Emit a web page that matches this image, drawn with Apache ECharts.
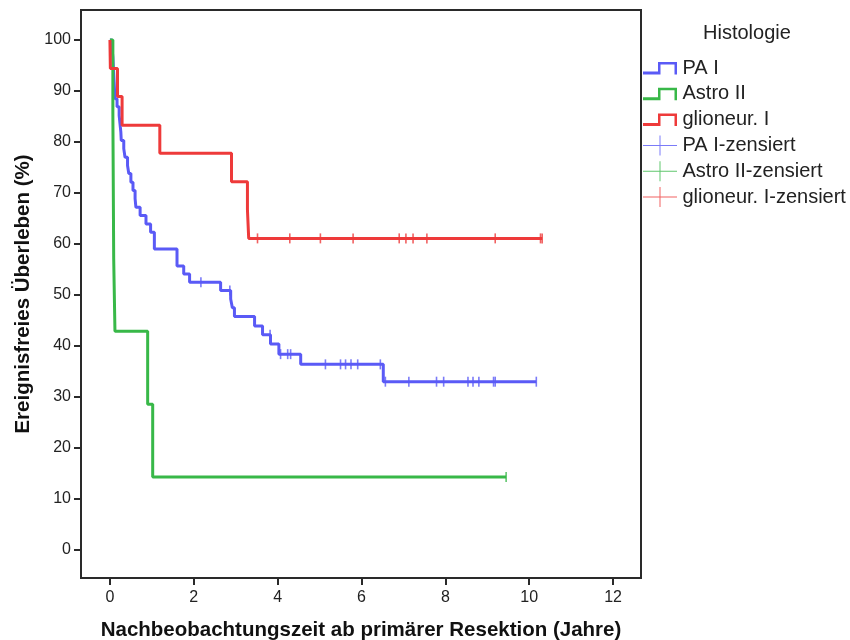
<!DOCTYPE html>
<html>
<head>
<meta charset="utf-8">
<script src="https://cdn.jsdelivr.net/npm/echarts@6/dist/echarts.min.js"></script>
<style>
html,body{margin:0;padding:0;background:#fff;}
#chart{width:850px;height:640px;}
</style>
</head>
<body>
<div id="chart"></div>
<script>
// ---- Data (Kaplan-Meier steps: time in years, survival in %) ----
const xTicks = [0, 2, 4, 6, 8, 10, 12];
const yTicks = [0, 10, 20, 30, 40, 50, 60, 70, 80, 90, 100];

const paTime = [0, 0.05, 0.07, 0.08, 0.09, 0.10, 0.11, 0.12, 0.17, 0.22, 0.24, 0.26, 0.27, 0.33, 0.36, 0.42, 0.45, 0.50, 0.55, 0.60, 0.62, 0.72, 0.86, 0.97, 1.06, 1.60, 1.76, 1.90, 2.64, 2.88, 2.92, 2.97, 3.45, 3.64, 3.83, 4.03, 4.55, 6.52, 10.17];
const paSurv = [100, 98.4, 96.7, 95.1, 93.4, 91.8, 90.2, 88.5, 86.9, 85.2, 83.6, 82.0, 80.3, 78.7, 77.0, 75.4, 73.8, 72.1, 70.5, 68.9, 67.2, 65.6, 63.9, 62.3, 59.0, 55.7, 54.1, 52.5, 50.9, 49.2, 47.5, 45.8, 43.9, 42.2, 40.4, 38.4, 36.4, 33.0, 33.0];
const paCensTime = [2.17, 2.86, 3.82, 4.07, 4.24, 4.31, 5.14, 5.50, 5.62, 5.75, 5.91, 6.45, 6.57, 7.13, 7.79, 7.96, 8.54, 8.66, 8.80, 9.15, 9.19, 10.17];
const paCensSurv = [52.5, 50.9, 42.2, 38.4, 38.4, 38.4, 36.4, 36.4, 36.4, 36.4, 36.4, 36.4, 33.0, 33.0, 33.0, 33.0, 33.0, 33.0, 33.0, 33.0, 33.0, 33.0];

const astroTime = [0, 0.07, 0.09, 0.12, 0.90, 1.02, 9.45];
const astroSurv = [100, 85.7, 57.1, 42.9, 28.6, 14.3, 14.3];
const astroCensTime = [9.45];
const astroCensSurv = [14.3];

const gliTime = [0, 0.01, 0.18, 0.29, 1.19, 2.90, 3.28, 3.31, 10.31];
const gliSurv = [100, 94.4, 88.9, 83.3, 77.8, 72.2, 66.7, 61.1, 61.1];
const gliCensTime = [3.52, 4.29, 5.02, 5.80, 6.90, 7.06, 7.23, 7.56, 9.19, 10.27, 10.31];
const gliCensSurv = [61.1, 61.1, 61.1, 61.1, 61.1, 61.1, 61.1, 61.1, 61.1, 61.1, 61.1];

const names = ['PA I', 'Astro II', 'glioneur. I', 'PA I-zensiert', 'Astro II-zensiert', 'glioneur. I-zensiert'];

// ---- Styles ----
const cBlue = '#5a5af6', cGreen = '#38b848', cRed = '#ee3a3a';
const FONT = '"Liberation Sans", Arial, sans-serif';
const zip = (a, b) => a.map((v, i) => [v, b[i]]);

const stepIcon = 'path://M0,0H0.01V0.01H0Z M33.99,19.99H34V20H33.99Z M0,13.5H15V4H34V16.5H31.5V6.5H17.5V16.5H0Z';
const crossIcon = 'path://M0,9.5H34V10.5H0Z M16.5,0H17.5V20H16.5Z';

function kmLine(name, t, s, color) {
  return {
    name: name, type: 'line', step: 'end', data: zip(t, s),
    showSymbol: false, symbol: 'none', silent: true,
    lineStyle: { color: color, width: 3 }, itemStyle: { color: color }
  };
}
function censor(name, t, s, color) {
  return {
    name: name, type: 'scatter', data: zip(t, s), silent: true,
    symbol: 'rect', symbolSize: [1.6, 10],
    itemStyle: { color: color }
  };
}

const chart = echarts.init(document.getElementById('chart'), null, { renderer: 'canvas' });
chart.setOption({
  animation: false,
  backgroundColor: '#fff',
  title: {
    text: 'Histologie', left: 698, top: 18,
    textStyle: { fontFamily: FONT, fontSize: 20, fontWeight: 'normal', color: '#222' }
  },
  legend: {
    orient: 'vertical', left: 638, top: 53, itemWidth: 35, itemHeight: 20, itemGap: 5.8,
    selectedMode: false,
    textStyle: { fontFamily: FONT, fontSize: 20, color: '#222' },
    data: [
      { name: names[0], icon: stepIcon, itemStyle: { color: cBlue, borderWidth: 0 } },
      { name: names[1], icon: stepIcon, itemStyle: { color: cGreen, borderWidth: 0 } },
      { name: names[2], icon: stepIcon, itemStyle: { color: cRed, borderWidth: 0 } },
      { name: names[3], icon: crossIcon, itemStyle: { color: cBlue, borderWidth: 0 } },
      { name: names[4], icon: crossIcon, itemStyle: { color: cGreen, borderWidth: 0 } },
      { name: names[5], icon: crossIcon, itemStyle: { color: cRed, borderWidth: 0 } }
    ]
  },
  grid: {
    left: 81, top: 10, right: 209, bottom: 62,
    outerBoundsMode: 'none', containLabel: false,
    show: true, borderColor: '#2a2a2a', borderWidth: 2, backgroundColor: '#fff'
  },
  xAxis: {
    type: 'value', min: -0.69, max: 12.667,
    name: 'Nachbeobachtungszeit ab primärer Resektion (Jahre)',
    nameLocation: 'middle', nameGap: 42,
    nameTextStyle: { fontFamily: FONT, fontSize: 20.5, fontWeight: 'bold', color: '#111' },
    splitLine: { show: false },
    axisLine: { show: true, onZero: false, lineStyle: { color: '#2a2a2a', width: 2 } },
    axisTick: { show: true, inside: false, length: 7, customValues: xTicks, lineStyle: { color: '#2a2a2a', width: 2 } },
    axisLabel: { customValues: xTicks, margin: 12, fontFamily: FONT, fontSize: 16, color: '#222' }
  },
  yAxis: {
    type: 'value', min: -5.49, max: 105.88,
    name: 'Ereignisfreies Überleben (%)',
    nameLocation: 'middle', nameGap: 46,
    nameTextStyle: { fontFamily: FONT, fontSize: 20.5, fontWeight: 'bold', color: '#111' },
    splitLine: { show: false },
    axisLine: { show: true, onZero: false, lineStyle: { color: '#2a2a2a', width: 2 } },
    axisTick: { show: true, inside: false, length: 7, customValues: yTicks, lineStyle: { color: '#2a2a2a', width: 2 } },
    axisLabel: { customValues: yTicks, margin: 10, fontFamily: FONT, fontSize: 16, color: '#222' }
  },
  series: [
    kmLine(names[0], paTime, paSurv, cBlue),
    kmLine(names[1], astroTime, astroSurv, cGreen),
    kmLine(names[2], gliTime, gliSurv, cRed),
    censor(names[3], paCensTime, paCensSurv, cBlue),
    censor(names[4], astroCensTime, astroCensSurv, cGreen),
    censor(names[5], gliCensTime, gliCensSurv, cRed)
  ]
});
</script>
</body>
</html>
